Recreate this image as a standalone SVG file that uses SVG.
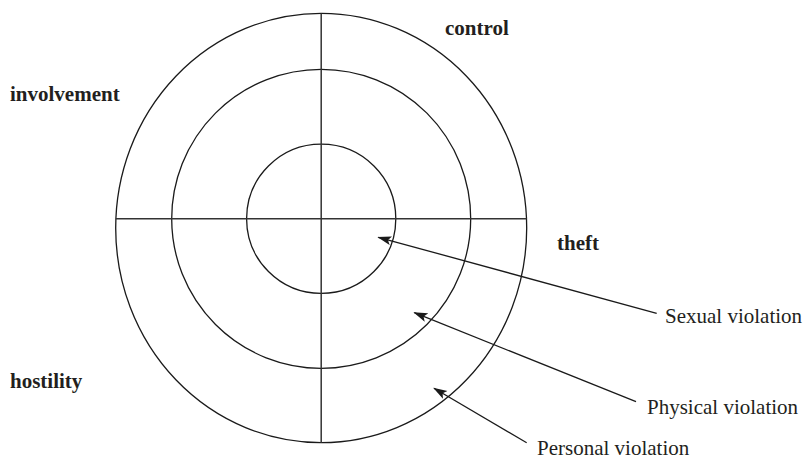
<svg xmlns="http://www.w3.org/2000/svg" width="807" height="460" viewBox="0 0 807 460">
<defs>
<style>
.ring{fill:none;stroke:#1a1a1a;stroke-width:1.3}
.axis{stroke:#333;stroke-width:1.5}
.arr{stroke:#1a1a1a;stroke-width:1.3;fill:none}
.lbl{font-size:21px;fill:#231f20}
.b{font-weight:bold}
</style>
<marker id="ah" markerUnits="userSpaceOnUse" markerWidth="14" markerHeight="10" refX="13" refY="4.5" orient="auto">
<path d="M0,0 L14,4.5 L0,9 L3,4.5 z" fill="#1a1a1a"/>
</marker>
</defs>
<rect width="807" height="460" fill="#fff"/>
<g id="outer"><ellipse class="ring" cx="321.2" cy="228" rx="205.5" ry="214.7"/></g>
<g id="middle"><circle class="ring" cx="321.2" cy="218.8" r="149.5"/></g>
<g id="inner"><circle class="ring" cx="321.2" cy="218.8" r="74.6"/></g>
<g id="axes">
<line class="axis" x1="321.2" y1="13.5" x2="321.2" y2="442.7"/>
<line class="axis" x1="115.9" y1="218.7" x2="526.6" y2="218.7"/>
</g>
<g id="connectors">
<line class="arr" x1="656.7" y1="313.3" x2="378.3" y2="237.3" marker-end="url(#ah)"/>
<line class="arr" x1="636" y1="401.7" x2="414.3" y2="312.7" marker-end="url(#ah)"/>
<line class="arr" x1="526.7" y1="442.7" x2="434" y2="388.3" marker-end="url(#ah)"/>
</g>
<g id="labels" font-family="'Liberation Serif', 'DejaVu Serif', 'Times New Roman', serif">
<text class="lbl b" x="445" y="35">control</text>
<text class="lbl b" x="10" y="101">involvement</text>
<text class="lbl b" x="557" y="250">theft</text>
<text class="lbl b" x="10" y="388">hostility</text>
<text class="lbl" x="665" y="323">Sexual violation</text>
<text class="lbl" x="647" y="414">Physical violation</text>
<text class="lbl" x="537" y="455">Personal violation</text>
</g>
</svg>
